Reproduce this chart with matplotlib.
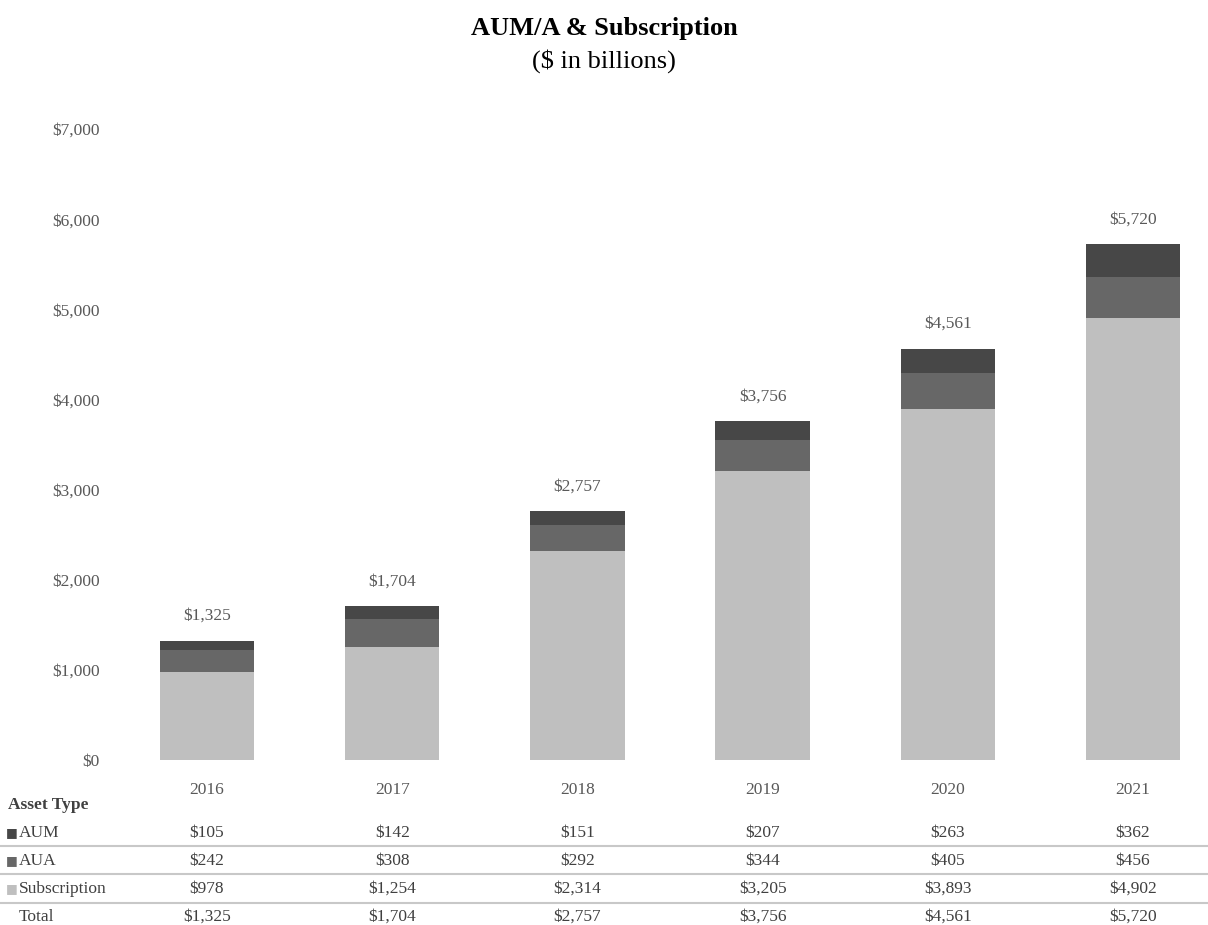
import numpy as np
import matplotlib.pyplot as plt
import matplotlib.transforms as mtransforms

years = ['2016', '2017', '2018', '2019', '2020', '2021']
aum = [105, 142, 151, 207, 263, 362]
aua = [242, 308, 292, 344, 405, 456]
subscription = [978, 1254, 2314, 3205, 3893, 4902]
totals = [1325, 1704, 2757, 3756, 4561, 5720]

series_names = ['AUM', 'AUA', 'Subscription']
colors = {'AUM': '#474747', 'AUA': '#676767', 'Subscription': '#bfbfbf'}

plt.rcParams['font.family'] = ['Liberation Serif', 'DejaVu Serif']

W, H = 1208, 925
fig = plt.figure(figsize=(W / 100, H / 100), dpi=100)

# axes placed in pixel terms
left_px, right_px, top_px, bottom_px = 108, 1208, 129, 760
ax = fig.add_axes([left_px / W, 1 - bottom_px / H,
                   (right_px - left_px) / W, (bottom_px - top_px) / H])

x = np.arange(len(years))
width = 0.51
ax.bar(x, subscription, width, color=colors['Subscription'])
ax.bar(x, aua, width, bottom=subscription, color=colors['AUA'])
ax.bar(x, aum, width, bottom=np.array(subscription) + np.array(aua), color=colors['AUM'])

for xi, t in zip(x, totals):
    ax.annotate(f'${t:,}', (xi, t), xytext=(0, 18), textcoords='offset points',
                ha='center', va='center', fontsize=12.5, color='#595959')

# x range: center of first bar at 207px, last at 1133px
px_per_unit = (1133 - 207) / 5
ax.set_xlim((left_px - 207) / px_per_unit, (right_px - 207) / px_per_unit)
ax.set_ylim(0, 7000)
ax.set_yticks(np.arange(0, 7001, 1000))
ax.set_yticklabels([f'${v:,}' for v in range(0, 7001, 1000)])
ax.tick_params(axis='y', length=0, pad=6, labelsize=12.5, labelcolor='#595959')
ax.set_xticks(x)
ax.set_xticklabels(years)
ax.tick_params(axis='x', length=0, pad=16, labelsize=12.5, labelcolor='#595959')
for s in ax.spines.values():
    s.set_visible(False)

fig.text(0.5, 1 - 29 / H, 'AUM/A & Subscription', ha='center', va='center',
         fontsize=19, fontweight='bold', color='black')
fig.text(0.5, 1 - 61 / H, '($ in billions)', ha='center', va='center',
         fontsize=19, color='black')

# data table below the chart
trans = mtransforms.blended_transform_factory(ax.transData, fig.transFigure)
fig.text(8 / W, 1 - 805 / H, 'Asset Type', ha='left', va='center',
         fontsize=12.5, fontweight='bold', color='#404040')

row_y = [833, 861, 889, 917]
row_vals = [aum, aua, subscription, totals]
row_names = series_names + ['Total']
for name, vals, ypx in zip(row_names, row_vals, row_y):
    yf = 1 - ypx / H
    if name in colors:
        fig.text(6 / W, yf, '\u25A0', ha='left', va='center', fontsize=9,
                 color=colors[name], family='DejaVu Sans')
    fig.text(19 / W, yf, name, ha='left', va='center', fontsize=12.5, color='#404040')
    for xi, v in zip(x, vals):
        fig.text(xi, yf, f'${v:,}', transform=trans, ha='center', va='center',
                 fontsize=12.5, color='#404040')

for ypx in [846, 874, 903]:
    fig.add_artist(plt.Line2D([0, 1], [1 - ypx / H] * 2, transform=fig.transFigure,
                              color='#c8c8c8', linewidth=1.5))

fig.savefig('out.png', dpi=100)
